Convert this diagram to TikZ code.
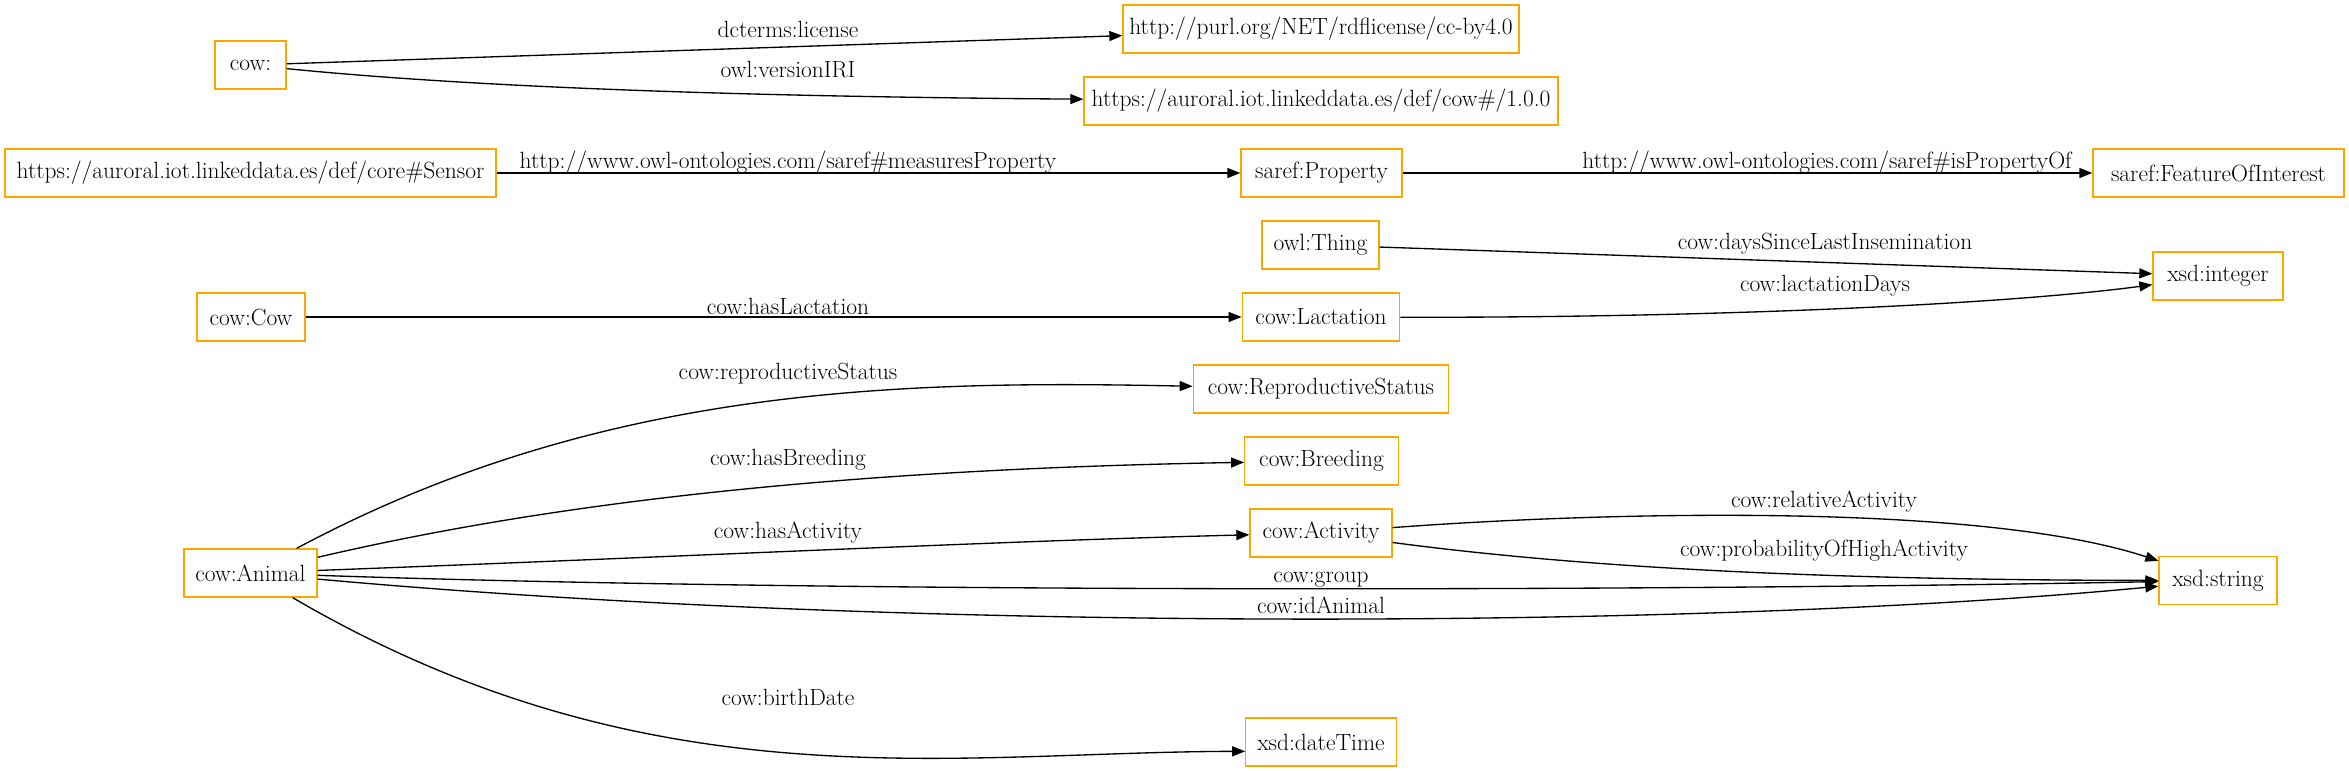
\documentclass[tikz,border=0pt]{standalone}
\usetikzlibrary{arrows.meta}
\definecolor{gvorange}{HTML}{FFA500}
\newcommand\lblfont{\fontsize{17.6}{21}\selectfont}
\begin{document}
\begin{tikzpicture}[x=0.75pt,y=-0.75pt,
  box/.style={draw=gvorange, line width=1pt, minimum height=36pt, inner sep=0pt, font=\lblfont},
  lbl/.style={inner sep=0pt, font=\lblfont},
  conn/.style={line width=1pt, -{Triangle[length=9.75pt,width=7.5pt]}}]
\useasboundingbox[fill=white] (0,0) rectangle (2349,771);
% nodes
\node[box, minimum width=71*0.75pt]  (cow)    at (250.5,65)  {cow:};
\node[box, minimum width=396*0.75pt] (purl)   at (1321,29)   {http://purl.org/NET/rdflicense/cc-by4.0};
\node[box, minimum width=474*0.75pt] (iri)    at (1321,101)  {https://auroral.iot.linkeddata.es/def/cow\#/1.0.0};
\node[box, minimum width=491*0.75pt] (sensor) at (250.5,173) {https://auroral.iot.linkeddata.es/def/core\#Sensor};
\node[box, minimum width=161*0.75pt] (prop)   at (1321.5,173) {saref:Property};
\node[box, minimum width=251*0.75pt] (foi)    at (2218.5,173) {saref:FeatureOfInterest};
\node[box, minimum width=117*0.75pt] (thing)  at (1320.5,245) {owl:Thing};
\node[box, minimum width=130*0.75pt] (int)    at (2218,276)  {xsd:integer};
\node[box, minimum width=108*0.75pt] (cowc)   at (251,317)   {cow:Cow};
\node[box, minimum width=157.5*0.75pt] (lact) at (1321,317)  {cow:Lactation};
\node[box, minimum width=255.4*0.75pt] (repro) at (1321,389) {cow:ReproductiveStatus};
\node[box, minimum width=153.5*0.75pt] (breed) at (1321.5,461) {cow:Breeding};
\node[box, minimum width=142*0.75pt] (act)    at (1321,533)  {cow:Activity};
\node[box, minimum width=133*0.75pt] (animal) at (250.5,573) {cow:Animal};
\node[box, minimum width=118*0.75pt] (string) at (2218,580.5) {xsd:string};
\node[box, minimum width=150.4*0.75pt] (dt)   at (1321,742)  {xsd:dateTime};
% edges
\draw[conn] (cow) -- (purl);
\draw[conn] (cow) .. controls (500,90) and (800,97) .. (iri);
\draw[conn] (sensor) -- (prop);
\draw[conn] (prop) -- (foi);
\draw[conn] (thing) -- (int);
\draw[conn] (lact) .. controls (1700,318) and (2000,305) .. (int);
\draw[conn] (cowc) -- (lact);
\draw[conn] (animal) .. controls (599,387) and (894,380) .. (repro);
\draw[conn] (animal) .. controls (520,510) and (800,470) .. (breed);
\draw[conn] (animal) .. controls (700,556) and (1000,541) .. (act);
\draw[conn] (animal) .. controls (800,592) and (1600,592) .. (string);
\draw[conn] (animal) .. controls (900,632) and (1700,630) .. (string);
\draw[conn] (animal) .. controls (651,807) and (950,752) .. (dt.187);
\draw[conn] (act) .. controls (1600,512) and (1980,502) .. (string);
\draw[conn] (act) .. controls (1600,570) and (1850,580) .. (string);
% labels
\node[lbl] (l1)  at (788,29)    {dcterms:license};
\node[lbl] (l2)  at (788,70)    {owl:versionIRI};
\node[lbl] (l3)  at (788,163)   {http://www.owl-ontologies.com/saref\#measuresProperty};
\node[lbl] (l4)  at (1827,163)  {http://www.owl-ontologies.com/saref\#isPropertyOf};
\node[lbl] (l5)  at (1825,244)  {cow:daysSinceLastInsemination};
\node[lbl] (l6)  at (1825,286)  {cow:lactationDays};
\node[lbl] (l7)  at (788,306)   {cow:hasLactation};
\node[lbl] (l8)  at (788,374)   {cow:reproductiveStatus};
\node[lbl] (l9)  at (788,460)   {cow:hasBreeding};
\node[lbl] (l10) at (788,533)   {cow:hasActivity};
\node[lbl] (l11) at (1824,502)  {cow:relativeActivity};
\node[lbl] (l12) at (1824,551)  {cow:probabilityOfHighActivity};
\node[lbl] (l13) at (1321,579.5) {cow:group};
\node[lbl] (l14) at (1321,605)  {cow:idAnimal};
\node[lbl] (l15) at (788,697)   {cow:birthDate};
\end{tikzpicture}
\end{document}
